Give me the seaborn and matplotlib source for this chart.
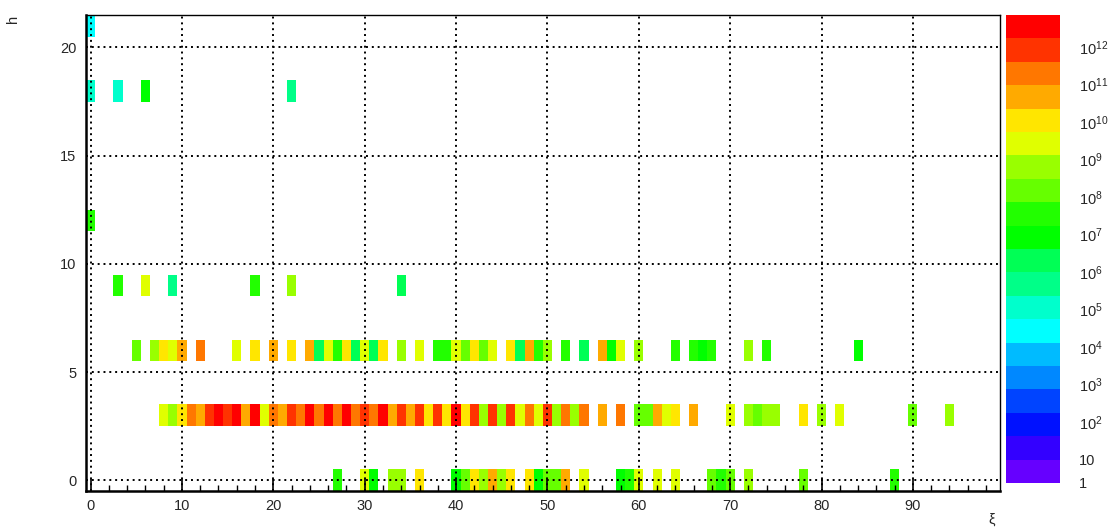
import numpy as np
import pandas as pd
import matplotlib
matplotlib.use('Agg')
import matplotlib.pyplot as plt
from matplotlib.colors import ListedColormap, LogNorm
import seaborn as sns

# filled bins per h row, log10 of the bin content
h_rows = [0, 3, 6, 9, 12, 18, 21]

xi_h0 = [27, 30, 31, 33, 34, 36, 40, 41, 42, 43, 44, 45, 46, 48, 49, 50, 51, 52, 54,
         58, 59, 60, 62, 64, 68, 69, 70, 72, 78, 88]
logz_h0 = [7.5, 9.4, 6.9, 8.8, 8.8, 10.0, 6.9, 8.2, 10.0, 8.8, 10.7, 8.8, 10.0, 10.0, 6.9, 8.2, 8.2, 10.7, 9.4,
           6.9, 7.5, 9.4, 9.4, 9.4, 8.2, 7.5, 8.2, 8.8, 8.2, 7.5]

xi_h3 = [8, 9, 10, 11, 12, 13, 14, 15, 16, 17, 18, 19, 20, 21, 22, 23, 24, 25, 26, 27, 28, 29, 30, 31,
         32, 33, 34, 35, 36, 37, 38, 39, 40, 41, 42, 43, 44, 45, 46, 47, 48, 49, 50, 51, 52, 53, 54,
         56, 58, 60, 61, 62, 63, 64, 66, 70, 72, 73, 74, 75, 78, 80, 82, 90, 94]
logz_h3 = [9.4, 8.8, 10.0, 11.3, 10.7, 11.9, 12.5, 11.9, 12.5, 10.7, 12.5, 9.4, 11.3, 10.7, 11.9, 11.3, 12.5,
           11.3, 12.5, 11.3, 12.5, 11.3, 11.9, 11.3, 12.5, 10.7, 11.9, 10.7, 11.9, 10.0, 11.9, 10.0, 12.5,
           10.0, 11.9, 8.8, 11.9, 8.8, 11.9, 9.4, 11.3, 9.4, 11.9, 8.8, 11.3, 8.8, 11.3,
           10.7, 11.3, 8.2, 8.2, 10.7, 9.4, 10.0, 10.7, 9.4, 8.8, 8.2, 8.8, 8.8, 10.0, 8.8, 9.4, 8.2, 8.8]

xi_h6 = [5, 7, 8, 9, 10, 12, 16, 18, 20, 22, 24, 25, 26, 27, 28, 29, 30, 31, 32, 34, 36, 38, 39, 40,
         41, 42, 43, 44, 46, 47, 48, 49, 50, 52, 54, 56, 57, 58, 60, 64, 66, 67, 68, 72, 74, 84]
logz_h6 = [8.2, 8.8, 10.0, 9.4, 10.7, 11.3, 9.4, 10.0, 10.7, 10.0, 10.7, 6.3, 9.4, 7.5, 10.0, 6.3, 9.4, 6.3,
           10.0, 8.8, 9.4, 7.5, 7.5, 9.4, 8.2, 10.0, 8.2, 9.4, 10.0, 6.3, 10.7, 7.5, 8.8, 7.5, 6.3, 10.7,
           6.9, 9.4, 8.8, 7.5, 7.5, 6.9, 7.5, 8.8, 7.5, 6.9]

xi_h9 = [3, 6, 9, 18, 22, 34]
logz_h9 = [7.5, 9.4, 5.7, 7.5, 8.8, 6.3]

xi_h12 = [0]
logz_h12 = [7.5]

xi_h18 = [0, 3, 6, 22]
logz_h18 = [5.0, 5.0, 6.9, 5.7]

xi_h21 = [0]
logz_h21 = [4.4]

xi_ticks = list(range(0, 100, 10))
h_ticks = [0, 5, 10, 15, 20]

# 20 contour colours, lowest first
palette = ['#6600ff', '#3300ff', '#0011ff', '#0044ff', '#0088ff', '#00bbff', '#00ffff',
           '#00ffcc', '#00ff88', '#00ff55', '#00ff00', '#22ff00', '#66ff00', '#99ff00',
           '#e0ff00', '#ffe600', '#ffaa00', '#ff7700', '#ff3300', '#ff0000']
z_lo, z_hi = 10 ** 0.37, 10 ** 12.85

rows = []
for h, xs, lz in zip(h_rows,
                     [xi_h0, xi_h3, xi_h6, xi_h9, xi_h12, xi_h18, xi_h21],
                     [logz_h0, logz_h3, logz_h6, logz_h9, logz_h12, logz_h18, logz_h21]):
    for x, v in zip(xs, lz):
        rows.append((h, x, 10 ** v))
df = pd.DataFrame(rows, columns=['h', 'xi', 'z'])
grid = df.pivot(index='h', columns='xi', values='z').reindex(index=range(22), columns=range(100))

sns.set_style('white')
plt.rcParams['font.family'] = ['Liberation Sans', 'DejaVu Sans']
plt.rcParams['mathtext.fontset'] = 'custom'
plt.rcParams['mathtext.rm'] = 'Liberation Sans'
plt.rcParams['mathtext.it'] = 'Liberation Sans:italic'

fig = plt.figure(figsize=(11.17, 5.31), dpi=100)
ax = fig.add_axes([0.077, 0.0753, 0.818, 0.8965])
cax = fig.add_axes([0.9006, 0.0904, 0.0483, 0.8814])

sns.heatmap(grid, ax=ax, cbar_ax=cax, cmap=ListedColormap(palette),
            norm=LogNorm(z_lo, z_hi), xticklabels=False, yticklabels=False)

# axes back to histogram coordinates (bins centred on integers)
ax.set_xlim(0, 100)
ax.set_ylim(0, 22)
ax.set_xticks(np.array(xi_ticks) + 0.5)
ax.set_xticklabels([str(t) for t in xi_ticks], fontsize=10.5)
ax.set_xticks(np.arange(0, 100, 2) + 0.5, minor=True)
ax.set_yticks(np.array(h_ticks) + 0.5)
ax.set_yticklabels([str(t) for t in h_ticks], fontsize=10.5, rotation=0)
ax.tick_params(which='both', direction='in', bottom=True, left=True,
               top=False, right=False, color='black')
ax.tick_params(axis='x', which='major', length=9, width=1.2, pad=6)
ax.tick_params(axis='x', which='minor', length=4, width=1)
ax.tick_params(axis='y', which='major', length=0, pad=7)
ax.grid(True, which='major', color='black', linestyle=(0, (1.0, 2.0)), linewidth=1.4)
ax.set_axisbelow(False)

for name, sp in ax.spines.items():
    sp.set_visible(True)
    sp.set_color('black')
    sp.set_linewidth(1.8 if name in ('left', 'bottom') else 1.0)

ax.set_xlabel('ξ', fontsize=10.5, loc='right')
ax.xaxis.set_label_coords(0.995, -0.045)
ax.set_ylabel('h', fontsize=10.5, loc='top')
ax.yaxis.set_label_coords(-0.072, 1.0)

cb = ax.collections[0].colorbar
cb.set_ticks([z_lo] + [10 ** k for k in range(1, 13)])
cb.set_ticklabels(['1', '10'] + ['$10^{%d}$' % k for k in range(2, 13)])
cb.minorticks_off()
cb.ax.tick_params(length=0, pad=14, labelsize=10.5)

fig.savefig('out.png', dpi=100)
